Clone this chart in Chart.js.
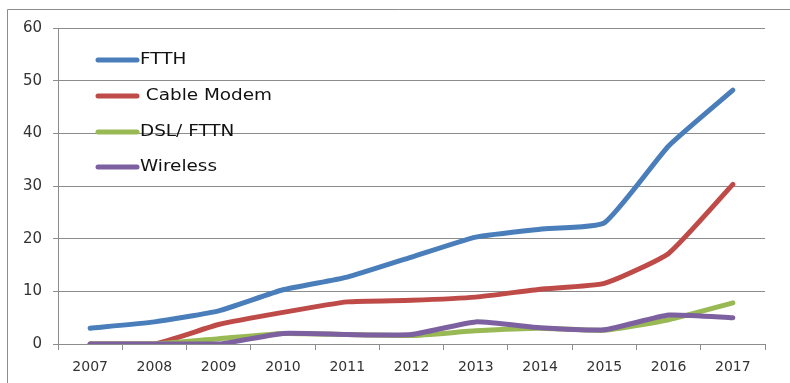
<!DOCTYPE html>
<html>
<head>
<meta charset="utf-8">
<script src="https://cdn.jsdelivr.net/npm/chart.js@4.4.0/dist/chart.umd.min.js"></script>
<style>
  html, body { margin: 0; padding: 0; background: #fff; }
  #wrap { width: 790px; height: 383px; position: relative; }
</style>
</head>
<body>
<div id="wrap"><canvas id="myChart" width="790" height="383"></canvas></div>
<script>
const years = ['2007','2008','2009','2010','2011','2012','2013','2014','2015','2016','2017']
const ftth = [3.0, 4.2, 6.3, 10.3, 12.7, 16.5, 20.3, 21.8, 23.0, 37.6, 48.2]
const cableModem = [0, 0, 3.7, 6.0, 8.0, 8.3, 8.9, 10.4, 11.5, 17.2, 30.3]
const dslFttn = [0, 0, 1.0, 2.0, 1.8, 1.6, 2.5, 3.0, 2.6, 4.6, 7.8]
const wireless = [0, 0, 0, 2.0, 1.8, 1.8, 4.2, 3.1, 2.7, 5.5, 5.0]
const seriesNames = ['FTTH', ' Cable Modem', 'DSL/ FTTN', 'Wireless']
const seriesColors = ['#4a7ebb', '#be4b48', '#98b954', '#7d60a0']

const tickFont = '"DejaVu Sans", sans-serif'

// frame + legend drawn inside the plot, Excel style
const framePlugin = {
    id: 'frame',
    beforeDraw(chart) {
        const c = chart.ctx
        c.save()
        c.strokeStyle = '#8c8c8c'
        c.lineWidth = 1
        c.beginPath()
        c.moveTo(7.5, 383)
        c.lineTo(7.5, 9.5)
        c.lineTo(790, 9.5)
        c.stroke()
        c.restore()
    },
    afterDatasetsDraw(chart) {
        const c = chart.ctx
        const ys = [60, 96, 132, 167]
        chart.data.datasets.forEach((ds, i) => {
            c.save()
            c.strokeStyle = ds.borderColor
            c.lineWidth = 5
            c.lineCap = 'round'
            c.beginPath()
            c.moveTo(98, ys[i])
            c.lineTo(137, ys[i])
            c.stroke()
            // text in the reference is a bit wider than the font, stretch it
            c.translate(140, ys[i])
            c.scale(1.15, 1)
            c.font = '16px "DejaVu Sans", sans-serif'
            c.textBaseline = 'middle'
            c.fillStyle = '#111'
            c.fillText(ds.label, 0, 0)
            c.restore()
        })
    }
}

const ctx = document.getElementById('myChart')
const myChart = new Chart(ctx, {
    type: 'line',
    data: {
        labels: years,
        datasets: [ftth, cableModem, dslFttn, wireless].map((d, i) => ({
            label: seriesNames[i],
            data: d,
            order: 3 - i,
            borderColor: seriesColors[i],
            backgroundColor: seriesColors[i],
            borderWidth: 5,
            pointRadius: 0,
            tension: 0.15,
            borderCapStyle: 'round',
            borderJoinStyle: 'round'
        }))
    },
    options: {
        responsive: false,
        animation: false,
        layout: { padding: { left: 0, right: 25, top: 28, bottom: 0 } },
        plugins: {
            legend: { display: false },
            tooltip: { enabled: false }
        },
        scales: {
            x: {
                offset: true,
                grid: {
                    offset: true,
                    drawOnChartArea: false,
                    drawTicks: true,
                    tickLength: 6,
                    color: '#8c8c8c'
                },
                border: { color: '#8c8c8c', width: 1 },
                ticks: {
                    color: '#333',
                    font: { family: tickFont, size: 14 },
                    padding: 9,
                    maxRotation: 0
                },
                afterFit: (s) => { s.height = 39 }
            },
            y: {
                min: 0,
                max: 60,
                ticks: {
                    stepSize: 10,
                    color: '#333',
                    font: { family: tickFont, size: 15 },
                    padding: 11
                },
                grid: {
                    color: '#8c8c8c',
                    tickLength: 5
                },
                border: { color: '#8c8c8c', width: 1 },
                afterFit: (s) => { s.width = 58 }
            }
        }
    },
    plugins: [framePlugin]
})
</script>
</body>
</html>
